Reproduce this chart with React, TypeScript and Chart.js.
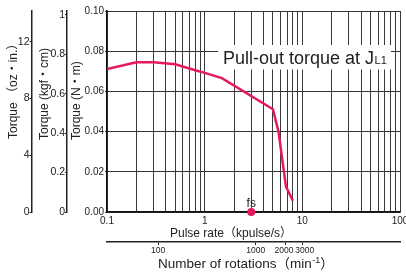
import { useEffect, useRef } from "react";
import { Chart, registerables } from "chart.js";

Chart.register(...registerables);

// ---- data ----
const pulseRates = [0.1, 0.2, 0.3, 0.5, 0.8, 1.0, 1.5, 5, 5.7, 6.8, 8];
const torqueNm = [0.0711, 0.0745, 0.0745, 0.0735, 0.0705, 0.0692, 0.0666, 0.0511, 0.04, 0.0126, 0.0056];
const fsRate = [3];
const fsTorque = [0];
const xDecades = [0.1, 1, 10];
const xMultipliers = [1, 2, 3, 4, 5, 6, 7, 8, 9];
const xTickLabels = [0.1, 1, 10, 100];
const rpmTicks = [100, 1000, 2000, 3000];
const rpmTickLabels = ["100", "1000", "2000 ", "  3000"];
const nmTicks = [0, 0.02, 0.04, 0.06, 0.08, 0.1];
const kgfTicks = [0, 0.2, 0.4, 0.6, 0.8, 1];
const ozTicks = [0, 4, 8, 12];

const NM_PER_KGFCM = 0.0980665;
const NM_PER_OZIN = 0.00706155;
const RPM_PER_KPPS = 300;

const X_MIN = 0.1;
const X_MAX = 100;
const Y_MAX = 0.1;

const RED = "#e6195e";
const TXT = "#222";
const SANS = '"Liberation Sans", Arial, "Noto Sans CJK JP", sans-serif';

const xGridValues = xDecades
  .flatMap((d) => xMultipliers.map((m) => +(d * m).toPrecision(3)))
  .concat([X_MAX]);

const textPlugin = {
  id: "customTexts",
  afterDraw(chart: any) {
    const { ctx, chartArea: a, scales } = chart;
    ctx.save();
    ctx.fillStyle = TXT;

    const drawV = (text: string, x: number, yBottom: number) => {
      ctx.save();
      ctx.translate(x, yBottom);
      ctx.rotate(-Math.PI / 2);
      ctx.font = `12px ${SANS}`;
      ctx.textAlign = "left";
      ctx.textBaseline = "middle";
      ctx.fillText(text, 0, 0);
      ctx.restore();
    };
    drawV("Torque （oz・in.）", scales.yOz.left + 13.5, a.bottom - 73);
    drawV("Torque (kgf・cm)", scales.yKgf.left + 12.8, a.bottom - 72);
    drawV("Torque (N・m)", scales.y.left + 10, a.bottom - 72);

    // bottom titles
    ctx.textAlign = "left";
    ctx.textBaseline = "alphabetic";
    ctx.font = `12px ${SANS}`;
    ctx.fillText("Pulse rate（kpulse/s）", a.left + 63, a.bottom + 24.5);

    let x = a.left + 51;
    const y = a.bottom + 56;
    ctx.font = `13.5px ${SANS}`;
    const t1 = "Number of rotations（min";
    ctx.fillText(t1, x, y);
    x += ctx.measureText(t1).width + 0.5;
    ctx.font = `9px ${SANS}`;
    ctx.fillText("-1", x, y - 5);
    x += ctx.measureText("-1").width;
    ctx.font = `13.5px ${SANS}`;
    ctx.fillText("）", x, y);

    // fs label
    const fx = scales.x.getPixelForValue(fsRate[0]);
    ctx.font = `12px ${SANS}`;
    ctx.textAlign = "center";
    ctx.fillText("fs", fx, a.bottom - 5);

    // label with white box
    ctx.fillStyle = "#fff";
    ctx.fillRect(a.left + 111, a.top + 34, 173, 24.5);
    ctx.fillStyle = TXT;
    ctx.textAlign = "left";
    ctx.font = `18px ${SANS}`;
    const lx = a.left + 116;
    const ly = a.top + 53;
    const main = "Pull-out torque at J";
    ctx.fillText(main, lx, ly);
    const w = ctx.measureText(main).width;
    ctx.font = `11px ${SANS}`;
    ctx.fillText("L1", lx + w + 0.5, ly);

    ctx.restore();
  },
};

const zeroPad = (s: any) => {
  s.paddingLeft = 0;
  s.paddingRight = 0;
  s.paddingTop = 0;
  s.paddingBottom = 0;
};

export default function App() {
  const ref = useRef<HTMLCanvasElement>(null);
  useEffect(() => {
    document.body.style.margin = "0";
    const chart = new Chart(ref.current!, {
      type: "line",
      data: {
        datasets: [
          {
            type: "line",
            data: pulseRates.map((x, i) => ({ x, y: torqueNm[i] })),
            xAxisID: "x",
            yAxisID: "y",
            borderColor: RED,
            borderWidth: 2.5,
            pointRadius: 0,
            tension: 0,
            fill: false,
          },
          {
            type: "scatter",
            data: fsRate.map((x, i) => ({ x, y: fsTorque[i] })),
            xAxisID: "x",
            yAxisID: "y",
            pointRadius: 4,
            pointBackgroundColor: RED,
            pointBorderWidth: 0,
            clip: false,
          } as any,
        ],
      },
      options: {
        animation: false,
        responsive: true,
        maintainAspectRatio: false,
        layout: { padding: { top: 11, right: 6, left: 0, bottom: 0 } },
        plugins: { legend: { display: false }, tooltip: { enabled: false } },
        scales: {
          x: {
            type: "logarithmic",
            position: "bottom",
            weight: 0,
            min: X_MIN,
            max: X_MAX,
            afterBuildTicks: (s: any) => {
              s.ticks = xGridValues.map((v) => ({ value: v }));
            },
            afterFit: (s: any) => {
              s.height = 30;
              zeroPad(s);
            },
            ticks: {
              autoSkip: false,
              maxRotation: 0,
              padding: 3,
              color: TXT,
              font: { family: SANS, size: 10 },
              callback: (v: any) => {
                const n = Number(v);
                return xTickLabels.some((t) => Math.abs(t - n) < 1e-9) ? String(n) : "";
              },
            },
            grid: { color: "#3a3a3a", lineWidth: 1, drawTicks: false, tickLength: 0 },
            border: { display: true, color: "#111", width: 1.5 },
          },
          x2: {
            type: "logarithmic",
            position: "bottom",
            weight: 1,
            min: X_MIN * RPM_PER_KPPS,
            max: X_MAX * RPM_PER_KPPS,
            afterBuildTicks: (s: any) => {
              s.ticks = rpmTicks.map((v) => ({ value: v }));
            },
            afterFit: (s: any) => {
              s.height = 32;
              zeroPad(s);
            },
            ticks: {
              autoSkip: false,
              maxRotation: 0,
              padding: 1,
              color: TXT,
              font: { family: SANS, size: 8.5 },
              callback: (_v: any, i: number) => rpmTickLabels[i],
            },
            grid: { drawOnChartArea: false, drawTicks: true, tickLength: 3, color: "#222", lineWidth: 1 },
            border: { display: true, color: "#222", width: 1.5 },
          },
          y: {
            type: "linear",
            position: "left",
            weight: 0,
            min: 0,
            max: Y_MAX,
            afterBuildTicks: (s: any) => {
              s.ticks = nmTicks.map((v) => ({ value: v }));
            },
            afterFit: (s: any) => {
              s.width = 40;
              zeroPad(s);
            },
            ticks: {
              padding: 1,
              color: TXT,
              font: { family: SANS, size: 10 },
              callback: (v: any) => Number(v).toFixed(2),
            },
            grid: { color: "#333", lineWidth: 1, drawTicks: true, tickLength: 2 },
            border: { display: true, color: "#111", width: 1.5 },
          },
          yKgf: {
            type: "linear",
            position: "left",
            weight: 1,
            min: 0,
            max: Y_MAX / NM_PER_KGFCM,
            afterBuildTicks: (s: any) => {
              s.ticks = kgfTicks.map((v) => ({ value: v }));
            },
            afterFit: (s: any) => {
              s.width = 35;
              zeroPad(s);
            },
            ticks: {
              padding: 0,
              color: TXT,
              font: { family: SANS, size: 10.5 },
              callback: (v: any) => {
                const n = Number(v);
                return n === 0 || n === 1 ? String(n) : n.toFixed(1);
              },
            },
            grid: { drawOnChartArea: false, drawTicks: true, tickLength: 2, color: "#222", lineWidth: 1 },
            border: { display: true, color: "#222", width: 1.5 },
          },
          yOz: {
            type: "linear",
            position: "left",
            weight: 2,
            min: 0,
            max: Y_MAX / NM_PER_OZIN,
            afterBuildTicks: (s: any) => {
              s.ticks = ozTicks.map((v) => ({ value: v }));
            },
            afterFit: (s: any) => {
              s.width = 32;
              zeroPad(s);
            },
            ticks: {
              padding: 0,
              color: TXT,
              font: { family: SANS, size: 10.5 },
              callback: (v: any) => String(v),
            },
            grid: { drawOnChartArea: false, drawTicks: true, tickLength: 2.5, color: "#222", lineWidth: 1 },
            border: { display: true, color: "#222", width: 1.5 },
          },
        },
      } as any,
      plugins: [textPlugin],
    });
    return () => chart.destroy();
  }, []);
  return (
    <div style={{ width: 406, height: 274, position: "relative" }}>
      <canvas ref={ref} />
    </div>
  );
}
